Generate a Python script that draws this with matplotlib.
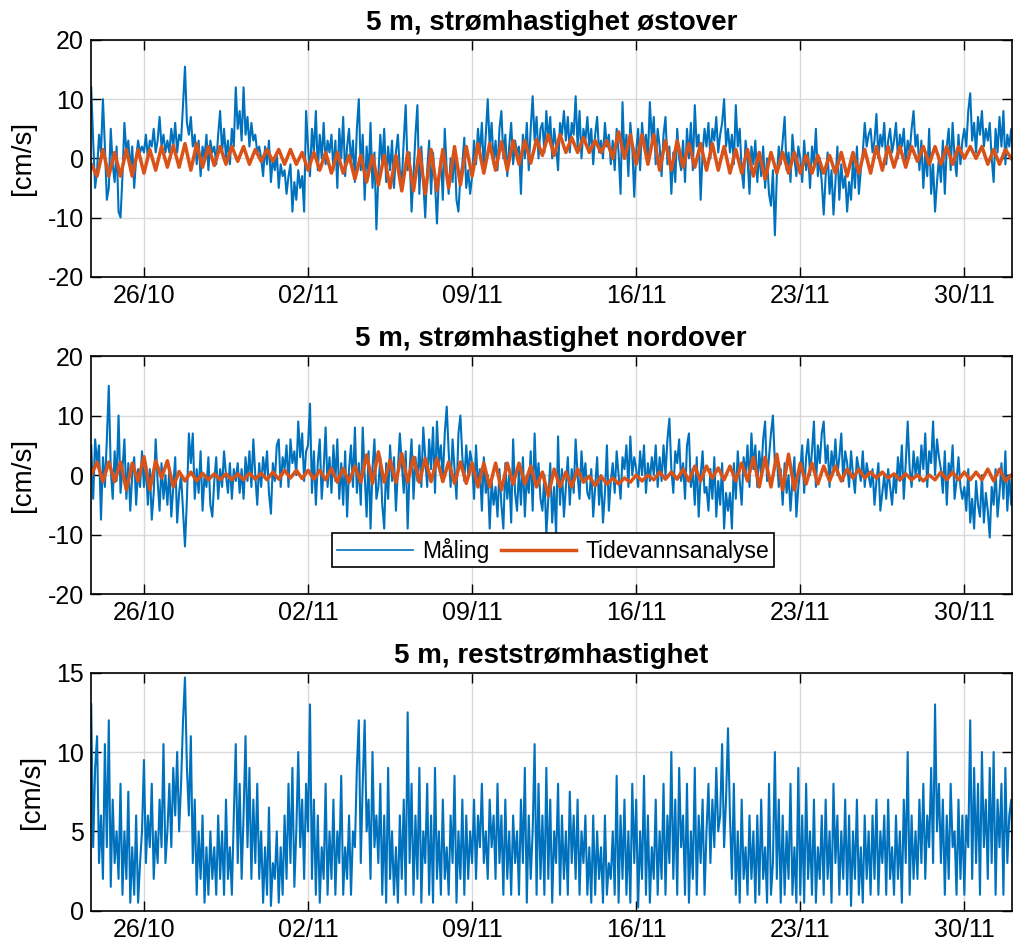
import numpy as np
import pandas as pd
import matplotlib
matplotlib.use("Agg")
import matplotlib.pyplot as plt
import matplotlib.dates as mdates

plt.rcParams['font.family'] = ['Liberation Sans', 'DejaVu Sans']
plt.rcParams['axes.unicode_minus'] = False

# Målinger, 2-timers verdier (start 23/10 18:00, en linje per døgn)
ost_maaling = [
    12, 3, -5,
    -2, 4, 1, 10, 2, -7, -5, 5, -1, -4, 2, -9,
    -10, -3, 6, 1, 3, -2, 2, -5, 0, 3, 1, 2,
    1, 4, 0, 3, 2, 5, 1, 3, 7, 2, 4, 1,
    3, 1, 5, 2, 6, 1, 4, 3, 9, 15.5, 6, 4,
    7, 2, 4, -1, 3, -3, 2, 0, 4, -2, 3, 1,
    2, -1, 4, 8, 1, 5, 0, 3, -1, 5, 2, 12,
    5, 8, 3, 12, 4, 7, 2, 6, 3, 4, 1, 2,
    0, -3, 2, -1, 3, -4, 0, -2, 1, -5, -1, -3,
    -2, -6, -3, -1, -9, -4, -7, -2, -5, -3, -9, 8,
    2, -3, 5, 1, 8, -2, 4, 0, 6, -1, 3, 1,
    4, -2, 3, -5, 5, 0, 7, -3, 2, 5, -1, 3,
    -4, 5, 10, -2, 4, -7, 2, -3, 6, -5, 1, -12,
    -3, 4, -1, 5, -4, 2, -2, 3, -5, 1, 4, -2,
    -4, 3, 9, -2, 1, -9, -3, 4, 9, -6, 2, -4,
    -10, -2, 3, -6, 1, -4, -11, -3, 0, -7, 5, -2,
    -6, 0, -4, 2, -7, -9, -3, -1, 3.5, -5, -2, -6,
    -3, 3, -1, 5, 1, 6, -2, 4, 10, 2, 6, -1,
    3, -2, 5, 8, 0, 4, -3, 2, 6, -1, 3, 1,
    2, -6, 4, 0, 6, -2, 5, 10.5, 3, 7, 0, 5,
    6, 1, 8, 3, 7, 0, 5, 2, -2, 6, 4, 8,
    3, 7, 1, 6, 4, 10.5, 2, 8, 0, 5, 3, 7,
    2, 5, -1, 4, 7, 1, 3, 0, 6, 2, 4, -1,
    3, -2, 5, 1, -6, 9.5, 0, 4, -3, 6, 2, -6.5,
    1, 5, -2, 6, 2, 4, 0, 9.5, 3, 7, -1, 5,
    2, -3, 4, 7, -1, 2, -6, 1, -4, 5, 0, -2,
    3, -4, 5, 0, 6, -2, 9, 2, 4, -7, 1, 5,
    2, 6, 0, 5, 3, 7, 1, 4, 6, 10, 2, 5,
    1, 4, -1, 9, 2, 5, -2, -5, 3, 0, -6, 2,
    -1, 3, -4, 1, -3, 2, -5, 0, -6, -8, -2, -13,
    -3, 2, -1, 3, 7, -2, 1, -4, 4, 0, -3, 2,
    0, -4, 3, -2, 1, -5, 2, -1, 5, -3, 0, -4,
    -9.5, -3, 1, -6, -2, -9.5, -4, 2, -7, -1, -5, -3,
    -9, -4, -7, 0, -5, 2, -6, -2, 1, 6, 2, 4,
    5, 1, 3, 7.5, 0, 4, 2, 6, -1, 3, 5, 1,
    3, 6, 0, 4, 2, 5, -1, 3, 1, 5, 8, 2,
    4, -2, 3, -5, 1, -3, 5, -6, -1, -9, -4, 0,
    -4, 3, -6, 2, 5, -2, 6, 0, -3, 4, -1, 3,
    5, 2, 8, 11, 3, 6, 1, 7, 4, 8, 2, 5,
    3, 6, 0, -4, 5, 1, 7, 2, 8, -1, 4, 2,
    5, 1,
]

nord_maaling = [
    5, -4, 6,
    2, 5, -7.5, 3, -2, 6, 15, 1, -4, 4, -1, 10,
    -3, 1, 6, -4, 2, -6, 0, 3, -5, 1, -2, 4,
    -2, 2, -5, 1, -7.5, -3, 6, -1, -6, 2, -4, 0,
    -5, 1, -7, -2, 3, -8, -3, 0, -6, -12, -4, 7,
    2, 7, -4, 1, -3, 4, -6, 0, -2, 3, -5, -7,
    -1, 3, -4, 1, -2, 4, 0, -3, 2, -4, 1, -1,
    2, -3, 1, -4, 3, -1, 4, -2, 6, 0, -5, 2,
    -2, 3, 0, 4, -3, -6.5, 2, -1, 5, 6, -2, 3,
    1, 5, -2, 6, 2, 4, 0, 9, 3, 7, -1, 4,
    5, 12, -3, 4, -5, 2, 6, -4, 1, 8, -2, 3,
    -3, 5, -1, 6, -4, 2, -5, 4, -7, 1, 5, -2,
    8, -3, 2, -5, 8, 0, -7, 4, -9, 1, 6, -4,
    -2, 3, -5, -9, 2, -4, 5, -1, 3, -6, 1, 7,
    2, -3, 4, -9, 1, 6, -4, 3, -1, 5, -2, 8,
    3, -2, 6, 1, 8, -3, 9, 2, 5, -1, 7, 11.5,
    4, -2, 6, 1, -4, 7, 10, 3, -1, 5, 0, 4,
    2, -4, 5, -2, 1, -6, 3, -3, 0, -9, -1, -5,
    -2, -7, 1, -5, -9, 2, -4, 0, -8, 6, -3, -6,
    1, -5, 3, -7, 0, -3, 4, -6, 7, -2, 2, -4,
    -6, 0, -10, -4, 2, -8, -2, -10, 6.5, -5, 1, -7,
    -2, 3, -5, 1, -3, 6, 0, -4, 4, -1, 2, -3,
    -4, 1, -7, -2, 3, -5, 0, -8, -3, 5, -6, -1,
    2, -3, 4, 0, -4, 3, 1, 5, -2, 6.5, 0, 3,
    1, -2, 4, 0, 5, -3, 2, -1, 3, 0, 5, -2,
    3, -1, 5, 0, 6, 9.5, 1, -3, 4, 2, 6, -1,
    2, -4, 5, 7, -2, 1, -5, 3, -7, 0, 4, -3,
    -2, -6, 1, -4, 3, -7, -1, -5, 2, -9, -3, -6,
    -3, -9, 2, -4, 4, -1, -5, 3, 0, 5, -2, 7,
    1, 5, -2, 4, 0, 6, 9, -1, 3, 7, 10, 2,
    3, -2, 1, -5, 2, -3, 0, -6, -1, 3, -7, -2,
    1, 5, -3, 3, 6, 0, 4, 9, -2, 5, 2, 7,
    9, 2, 5, -2, 4, 1, 6, 0, 3, 7, -1, 4,
    2, -2, 4, 0, -3, 3, 1, -1, 4, -2, 2, 0,
    -2, 1, -5, -1, 2, -6, -3, 0, -4, 1, -2, -5,
    0, -3, 3, -1, 5, -4, 2, 9, 1, -2, 4, 0,
    3, -1, 5, 1, 7, -2, 4, 2, 9, 0, 6, 3,
    1, -3, 4, -5, 2, 0, 5, -4, -1, 3, -2, -4,
    -2, -6, 1, -8, -4, -9, -1, -5, -7, 0, -8, -3,
    -6, -10.5, -2, -5, 1, -7, -3, 2, -4, 4, -6, 0,
    -5, -2,
]

rest_maaling = [
    13, 4, 9,
    11, 3, 6, 2, 10.5, 4, 12, 1.5, 7, 3, 5, 2,
    8, 1, 5, 2, 7.5, 0.5, 4, 1, 6, 0.5, 3, 5,
    9.5, 3, 6, 4, 8, 2, 5, 3, 7, 4, 10.5, 3,
    5, 8, 4, 9, 6, 10, 5, 8, 12, 14.7, 9, 6,
    11, 3, 7, 1, 5, 2, 6, 0.5, 4, 1, 5, 2,
    4, 1, 6, 2, 5, 1, 7, 2, 4, 1, 6, 10.5,
    3, 8, 2, 6, 11, 4, 9, 2, 7, 3, 8, 2,
    5, 0.5, 4, 1, 6.5, 0.3, 3, 2, 5, 0.5, 4, 1,
    6, 2, 8, 3, 9, 1.5, 5, 10, 4, 7, 2, 8,
    5, 13, 2, 7, 1, 6, 0.5, 4, 2, 8, 1, 5,
    2, 7, 1, 5, 3, 8.5, 1, 4, 2, 6, 1, 5,
    4, 9, 12, 3, 8, 12, 5, 7, 2, 10, 4, 6,
    3, 8, 1, 6, 0.5, 9, 2, 5, 1, 4, 0.5, 6,
    2, 7, 1, 12.5, 3, 8, 1, 6, 2, 9, 0.5, 5,
    3, 8, 1, 6, 0.5, 9, 2, 5, 1, 7, 2, 4,
    1, 6, 3, 8.5, 0.5, 5, 2, 7, 1, 6, 2, 5,
    3, 7, 2, 6, 4, 8, 3, 5, 2, 7, 4, 6,
    2, 8, 3, 6, 1, 7, 2, 5, 1, 6, 3, 5,
    1, 7, 3, 9, 0.5, 6, 2, 5, 10.5, 1, 8, 2,
    6, 1, 9, 2, 7, 0.5, 5, 3, 8, 1, 6, 2,
    5, 1, 7.5, 3, 6, 2, 7, 1, 5, 3, 6, 1,
    4, 0.5, 6, 1, 5, 2, 4, 0.5, 6, 1, 3, 2,
    5, 1, 8.5, 0.5, 6, 2, 7, 1, 5, 0.5, 8, 3,
    7, 0.2, 5, 2, 8.5, 1, 6, 0.5, 4, 2, 7, 1,
    5, 2, 8, 1, 6, 3, 10, 2, 7, 1, 9, 4,
    6, 1, 8, 0.5, 5, 2, 9, 1, 6, 3, 7, 1,
    5, 8, 3, 7, 4, 9, 5, 6, 10.5, 4, 7, 11.5,
    6, 2, 8, 1, 5, 0.5, 7, 2, 4, 1, 6, 2,
    5, 0.5, 6, 1, 7, 2, 4, 0.5, 8, 1, 3, 10,
    2, 7, 0.5, 6, 1, 5, 2, 8, 1, 4, 0.5, 9,
    1, 6, 0.5, 8, 2, 5, 1, 7, 0.5, 4, 2, 6,
    1, 7, 2, 5, 0.5, 8, 3, 6, 1, 5, 2, 7,
    1, 6, 0.3, 5, 2, 7, 1, 4, 0.5, 6, 2, 5,
    1, 6, 2, 7, 1, 5, 3, 6, 1, 7, 2, 4,
    1, 6, 2, 5, 0.5, 7, 3, 10, 1, 6, 2, 5,
    2, 7, 3, 8, 2, 6, 4, 9, 3, 13, 5, 8,
    3, 7, 1, 6, 2, 8, 4, 5, 1, 7, 2, 6,
    1, 6, 4, 12, 2, 9, 3, 8, 1, 10, 4, 7,
    2, 9, 3, 10, 1, 7, 4, 8, 1, 9, 3, 6,
    7, 2,
]

# Tidevannsanalyse, 6-timers verdier (start 23/10 18:00)
ost_tide = [
    -1,
    -3, 1.5, -3, 1,
    -3, 1.5, -3, 1.5,
    -2.5, 1.5, -2, 2,
    -1.5, 2.2, -1.5, 2.5,
    -2, 2.5, -1.5, 2,
    -1.2, 2, -1, 2,
    -0.5, 2, -1, 1.5,
    -0.5, 1.5, -0.5, 1.5,
    -1, 1.5, -1, 1,
    -2, 1, -2, 1,
    -2.5, 1, -2.5, 0.5,
    -3.5, 0.5, -4, 0.5,
    -4.5, 0.5, -5, 0.5,
    -5.5, 1, -5.5, 1.5,
    -6, 1.5, -5.5, 1.5,
    -5, 2, -4.5, 2,
    -3, 2.5, -2.5, 2.5,
    -2, 2.8, -2, 3,
    -1, 3, -0.8, 3.2,
    0.5, 4, 0.5, 4,
    1, 3.5, 1, 3.5,
    1, 3, 1, 3,
    0, 4.5, 0, 4,
    -1, 4, -1, 4,
    -2, 3, -2, 3,
    -1.5, 2.5, -1.5, 2.5,
    -2, 2.5, -2, 2,
    -2.5, 1.5, -2.5, 1.5,
    -3, 1, -3.5, 1,
    -2.5, 1, -2.5, 1,
    -2.5, 0.5, -2.5, 0.5,
    -2.5, 0.5, -2.5, 1,
    -3, 1, -2.5, 1.5,
    -2.5, 2, -2, 2,
    -1.5, 2, -1.5, 2,
    -0.5, 2, -1, 2,
    -1, 2, -1, 2,
    0, 2, 0, 2,
    -1, 1.5, -1, 1.5,
    0,
]

nord_tide = [
    0,
    2.2, -1.1, 2.2, -1.1,
    2.2, -2.5, 2, -1,
    3.1, -2.5, 2.4, -0.5,
    2.4, -2, 0.6, -1,
    0.5, -1, 0.3, -0.8,
    0.2, -0.8, 0.2, -0.8,
    0.2, -0.8, 0.3, -0.7,
    0.3, -0.8, 0.5, -0.7,
    0.8, -0.5, 0.8, -0.6,
    0.8, -0.7, 0.8, -0.8,
    1.1, -1.2, 1.1, -1.2,
    1.5, -1.2, 3.4, -1.4,
    3.9, -1.2, 2.5, -1.2,
    3.6, -1.2, 3, -1.2,
    2.8, -1.1, 2.8, -1.1,
    2.2, -1.4, 2.2, -1.4,
    2, -2, 2, -2,
    2, -2.5, 2, -1.5,
    2, -1.5, 1.5, -2,
    0.5, -3.5, 1, -2,
    0.5, -2, 1, -1.2,
    -0.2, -1.8, -0.2, -1.5,
    -0.5, -1.5, -0.5, -1.2,
    0, -1, 0, -0.8,
    0.5, -0.7, 0.5, -0.7,
    1, -1, 1.5, -1,
    1.5, -0.5, 1.2, -0.8,
    1.5, -1, 2, -1,
    3, -2, 3, -2,
    3.5, -2.5, 3.5, -2.5,
    2, -1.5, 2, -1.5,
    1.5, -1, 1.5, -1,
    1, -0.5, 1, -0.5,
    0.5, -0.5, 0.5, -0.5,
    0.2, -0.8, 0.2, -0.8,
    0, -1, 0, -0.8,
    0.5, -0.8, 0.5, -0.8,
    0.5, -0.8, 0.5, -0.8,
    1, -1, 1, -1,
    0,
]

t_maaling = pd.date_range("2023-10-23 18:00", periods=len(ost_maaling), freq="2h")
t_tide = pd.date_range("2023-10-23 18:00", periods=len(ost_tide), freq="6h")

blaa = '#0072BD'
oransje = '#D95319'
xlim = (pd.Timestamp("2023-10-23 17:30"), pd.Timestamp("2023-12-02 00:30"))
ticks = pd.date_range("2023-10-26", "2023-11-30", freq="7D")

fig = plt.figure(figsize=(10.24, 9.5), dpi=100)
ax1 = fig.add_axes([0.0886, 0.7087, 0.8994, 0.2492])
ax2 = fig.add_axes([0.0886, 0.3747, 0.8994, 0.2505])
ax3 = fig.add_axes([0.0886, 0.0414, 0.8994, 0.2505])

ax1.plot(t_maaling[:len(ost_maaling)], ost_maaling, color=blaa, lw=1.5)
ax1.plot(t_tide, ost_tide, color=oransje, lw=2.5)
ax1.set_title('5 m, strømhastighet østover', fontsize=20, fontweight='bold', pad=7)

ax2.plot(t_maaling[:len(nord_maaling)], nord_maaling, color=blaa, lw=1.5, label='Måling')
ax2.plot(t_tide[:len(nord_tide)], nord_tide, color=oransje, lw=2.5, label='Tidevannsanalyse')
ax2.set_title('5 m, strømhastighet nordover', fontsize=20, fontweight='bold', pad=7)
leg = ax2.legend(loc='lower center', bbox_to_anchor=(0.502, 0.113), ncol=2, fontsize=16.5,
                 fancybox=False, framealpha=1, edgecolor='black', borderpad=0.2,
                 handlelength=3.3, columnspacing=0.5, handletextpad=0.4, borderaxespad=0)
leg.get_frame().set_linewidth(1.2)
for h in leg.get_lines():
    h.set_linewidth(1.2 if h.get_color() == blaa else 2.5)

ax3.plot(t_maaling[:len(rest_maaling)], rest_maaling, color=blaa, lw=1.5)
ax3.set_title('5 m, reststrømhastighet', fontsize=20, fontweight='bold', pad=7)

for ax in (ax1, ax2):
    ax.set_ylim(-20, 20)
    ax.set_yticks([-20, -10, 0, 10, 20])
ax3.set_ylim(0, 15)
ax3.set_yticks([0, 5, 10, 15])

for ax in (ax1, ax2, ax3):
    ax.set_xlim(xlim)
    ax.set_xticks(ticks)
    ax.xaxis.set_major_formatter(mdates.DateFormatter('%d/%m'))
    ax.set_ylabel('[cm/s]', fontsize=20, labelpad=8)
    ax.grid(True, color='#d9d9d9', lw=1)
    ax.set_axisbelow(True)
    ax.tick_params(direction='in', top=True, right=True, labelsize=18, length=7, width=1, pad=5)
    for s in ax.spines.values():
        s.set_linewidth(1.2)

fig.savefig('out.png', dpi=100)
